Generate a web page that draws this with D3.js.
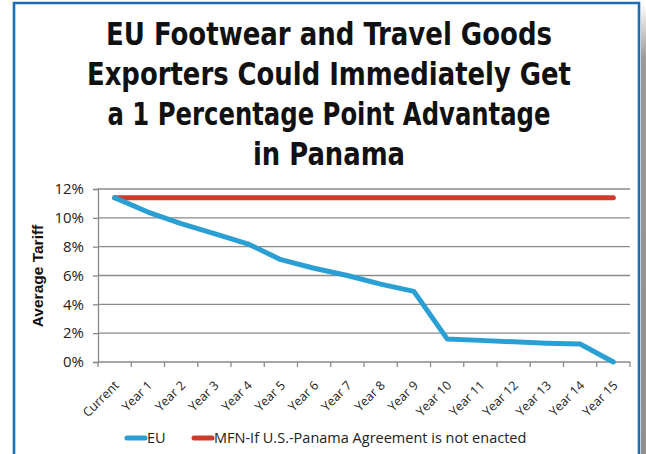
<!DOCTYPE html>
<html>
<head>
<meta charset="utf-8">
<script src="https://cdn.jsdelivr.net/npm/d3@7"></script>
<style>
  html, body { margin: 0; padding: 0; background: #fff; overflow: hidden; }
  svg { display: block; }
</style>
</head>
<body>
<svg id="chart" width="646" height="454"></svg>
<script>
const titleLines = [
  "EU Footwear and Travel Goods",
  "Exporters Could Immediately Get",
  "a 1 Percentage Point Advantage",
  "in Panama",
];
const titleWidths = [446, 484, 443, 152];
const categories = ["Current", "Year 1", "Year 2", "Year 3", "Year 4", "Year 5", "Year 6", "Year 7",
  "Year 8", "Year 9", "Year 10", "Year 11", "Year 12", "Year 13", "Year 14", "Year 15"];
const euValues = [11.4, 10.4, 9.6, 8.9, 8.2, 7.1, 6.5, 6.0, 5.4, 4.9, 1.6, 1.5, 1.4, 1.3, 1.25, 0];
const mfnValues = [11.4, 11.4, 11.4, 11.4, 11.4, 11.4, 11.4, 11.4, 11.4, 11.4, 11.4, 11.4, 11.4, 11.4, 11.4, 11.4];
const yTicks = [0, 2, 4, 6, 8, 10, 12];
const seriesNames = ["EU", "MFN-If U.S.-Panama Agreement is not enacted"];
const seriesColors = ["#2a9fd4", "#cf3a2b"];

const svg = d3.select("#chart");
const margin = { top: 189, right: 16, bottom: 92, left: 98 };
const height = 454;
const innerWidth = 630 - margin.left;
const innerHeight = 362 - margin.top;

// frame with soft shadow on the right
const defs = svg.append("defs");
const grad = defs.append("linearGradient")
  .attr("id", "shadow")
  .attr("x1", 0).attr("y1", 0).attr("x2", 0).attr("y2", 1);
grad.append("stop").attr("offset", "0").attr("stop-color", "#ffffff");
grad.append("stop").attr("offset", "0.12").attr("stop-color", "#9a9a9a");
grad.append("stop").attr("offset", "1").attr("stop-color", "#8f8f8f");

svg.append("rect")
  .attr("x", 641).attr("y", 4)
  .attr("width", 5).attr("height", height - 4)
  .attr("fill", "url(#shadow)");

svg.append("path")
  .attr("d", `M14,${height} V3 H639 V${height}`)
  .attr("fill", "none")
  .attr("stroke", "#1c6db3")
  .attr("stroke-width", 2.6);

// title
svg.append("g")
  .selectAll("text")
  .data(titleLines)
  .join("text")
  .attr("x", 329)
  .attr("y", (d, i) => 45 + i * 40)
  .attr("text-anchor", "middle")
  .attr("font-family", "'Liberation Sans Narrow', 'DejaVu Sans Condensed', 'Liberation Sans', sans-serif")
  .attr("font-weight", "bold")
  .attr("font-size", 32)
  .attr("textLength", (d, i) => titleWidths[i])
  .attr("lengthAdjust", "spacingAndGlyphs")
  .attr("fill", "#111")
  .text((d) => d);

const g = svg.append("g")
  .attr("transform", `translate(${margin.left}, ${margin.top})`);

const x = d3.scaleBand()
  .domain(categories)
  .range([0, innerWidth]);

const y = d3.scaleLinear()
  .domain([0, 12])
  .range([innerHeight, 0]);

// horizontal gridlines
g.append("g")
  .selectAll("line")
  .data(yTicks.filter((d) => d > 0))
  .join("line")
  .attr("x1", 0)
  .attr("x2", innerWidth)
  .attr("y1", (d) => y(d))
  .attr("y2", (d) => y(d))
  .attr("stroke", "#8a8a8a")
  .attr("stroke-width", 1.3);

// y axis
const yAxis = g.append("g")
  .call(d3.axisLeft(y).tickValues(yTicks).tickSize(5).tickPadding(9).tickFormat((d) => d + "%"));
yAxis.select(".domain").attr("stroke", "#8a8a8a").attr("stroke-width", 1.3);
yAxis.selectAll(".tick line").attr("stroke", "#8a8a8a").attr("stroke-width", 1.3);
yAxis.selectAll("text")
  .attr("font-family", "'Open Sans', 'Noto Sans', sans-serif")
  .attr("font-size", 15)
  .attr("fill", "#222");

// x axis: ticks at band boundaries
const xAxis = g.append("g")
  .attr("transform", `translate(0, ${innerHeight})`);
xAxis.append("line")
  .attr("x1", 0).attr("x2", innerWidth)
  .attr("stroke", "#8a8a8a").attr("stroke-width", 1.3);
xAxis.selectAll(".tick-mark")
  .data(categories.concat([null]))
  .join("line")
  .attr("class", "tick-mark")
  .attr("x1", (d, i) => i * x.step())
  .attr("x2", (d, i) => i * x.step())
  .attr("y1", 0)
  .attr("y2", 5)
  .attr("stroke", "#8a8a8a")
  .attr("stroke-width", 1.3);

xAxis.selectAll(".cat-label")
  .data(categories)
  .join("text")
  .attr("class", "cat-label")
  .attr("transform", (d) => `translate(${x(d) + x.bandwidth() / 2 + 2}, 21) rotate(-45)`)
  .attr("text-anchor", "end")
  .attr("dy", "0.35em")
  .attr("font-family", "'Open Sans', 'Noto Sans', sans-serif")
  .attr("font-size", 12.5)
  .attr("fill", "#222")
  .text((d) => d);

// y axis title
svg.append("text")
  .attr("transform", "translate(43, 276) rotate(-90)")
  .attr("text-anchor", "middle")
  .attr("font-family", "'Liberation Sans', Arial, sans-serif")
  .attr("font-weight", "bold")
  .attr("font-size", 15.5)
  .attr("fill", "#111")
  .text("Average Tariff");

// lines
const line = d3.line()
  .x((d, i) => x(categories[i]) + x.bandwidth() / 2)
  .y((d) => y(d));

[mfnValues, euValues].forEach((vals, k) => {
  g.append("path")
    .datum(vals)
    .attr("d", line)
    .attr("fill", "none")
    .attr("stroke", k === 0 ? seriesColors[1] : seriesColors[0])
    .attr("stroke-width", 5)
    .attr("stroke-linecap", "round")
    .attr("stroke-linejoin", "round");
});

// legend
const legendX = [125, 192];
const legend = svg.append("g");
seriesNames.forEach((name, i) => {
  legend.append("line")
    .attr("x1", legendX[i] + 2).attr("x2", legendX[i] + 20)
    .attr("y1", 438).attr("y2", 438)
    .attr("stroke", seriesColors[i])
    .attr("stroke-width", 5)
    .attr("stroke-linecap", "round");
  legend.append("text")
    .attr("x", legendX[i] + 22)
    .attr("y", 443)
    .attr("font-family", "'Open Sans', 'Noto Sans', sans-serif")
    .attr("font-size", 14.5)
    .attr("fill", "#222")
    .text(name);
});
</script>
</body>
</html>
